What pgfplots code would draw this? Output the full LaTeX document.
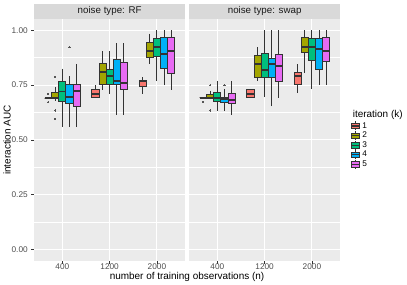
\documentclass[border=0pt]{standalone}
\usepackage{pgfplots}
\pgfplotsset{compat=1.18}
\usepgfplotslibrary{statistics}
\usepackage{fontspec}
\setmainfont{Liberation Sans}

\definecolor{panelgray}{HTML}{EBEBEB}
\definecolor{stripgray}{HTML}{D9D9D9}
\definecolor{boxline}{HTML}{333333}
\definecolor{ticktext}{HTML}{4D4D4D}
\definecolor{striptext}{HTML}{1A1A1A}
\definecolor{ptgray}{HTML}{555555}
\definecolor{c1}{HTML}{F8766D}
\definecolor{c2}{HTML}{A3A500}
\definecolor{c3}{HTML}{00BF7D}
\definecolor{c4}{HTML}{00B0F6}
\definecolor{c5}{HTML}{E76BF3}

% position, colour, lower whisker, lower quartile, median, upper quartile, upper whisker, outliers
\newcommand{\ggbox}[8]{%
\addplot[forget plot, boxplot/draw direction=y,
  boxplot prepared={draw position=#1, lower whisker=#3, lower quartile=#4, median=#5, upper quartile=#6, upper whisker=#7, box extend=0.15, whisker extend=0},
  draw=boxline, fill=#2, line width=0.9bp, mark=*, mark size=0.6bp,
  mark options={draw=ptgray, fill=ptgray, line width=0pt},
  boxplot/every median/.style={line width=1.9bp}] coordinates {#8};}

\pgfplotsset{
  ggpanel/.style={
    scale only axis, width=151.3bp, height=242bp,
    xmin=0.4, xmax=3.6, ymin=-0.053, ymax=1.052,
    xtick={1,2,3}, xticklabels={400,1200,2000},
    ytick={0,0.25,0.5,0.75,1},
    minor ytick={0.125,0.375,0.625,0.875},
    grid=both,
    major grid style={white, line width=1.1bp},
    minor grid style={white, line width=0.55bp},
    axis background/.style={fill=panelgray},
    axis line style={draw=none},
    tick align=outside, major tick length=2.75bp, minor tick length=0pt,
    tick style={boxline, line width=0.55bp},
    xtick pos=left, ytick pos=left,
    ticklabel style={font=\fontsize{8.3}{9}\selectfont, text=ticktext},
    xticklabel style={inner sep=0pt, anchor=north, yshift=0.5bp},
    /pgf/number format/assume math mode=true,
    every axis title/.style={at={(rel axis cs:0.5,1)}, anchor=south,
      fill=stripgray, minimum width=151.3bp, minimum height=15.4bp,
      inner sep=0pt, outer sep=0pt, text=striptext,
      font=\fontsize{9.8}{11}\selectfont},
  },
}
\newcommand{\ggkey}[1]{%
\addlegendimage{legend image code/.code={%
    \draw[boxline, line width=0.6bp] (3.85bp,-4.5bp) -- (3.85bp,4.5bp);
    \draw[boxline, fill=#1, line width=0.6bp] (0bp,-2.75bp) rectangle (7.7bp,2.75bp);
    \draw[boxline, line width=1.1bp] (0bp,0bp) -- (7.7bp,0bp);}}}

\begin{document}
\begin{tikzpicture}
\path[use as bounding box] (0bp,0bp) rectangle (407bp,285bp);

% ---------------- noise type: RF ----------------
\begin{axis}[ggpanel, at={(34bp,24bp)}, anchor=south west,
  yticklabels={0.00,0.25,0.50,0.75,1.00},
  title={noise type: RF}]
% n = 400
\ggbox{0.70}{c1}{0.690}{0.690}{0.690}{0.690}{0.690}{(0,0.711) (0,0.673)}
\ggbox{0.85}{c2}{0.678}{0.689}{0.692}{0.716}{0.742}{(0,0.788) (0,0.634) (0,0.596)}
\ggbox{1.00}{c3}{0.558}{0.675}{0.721}{0.768}{0.825}{}
\ggbox{1.15}{c4}{0.558}{0.668}{0.694}{0.755}{0.790}{(0,0.924)}
\ggbox{1.30}{c5}{0.558}{0.654}{0.723}{0.755}{0.848}{}
% n = 1200
\ggbox{1.70}{c1}{0.692}{0.694}{0.711}{0.729}{0.749}{}
\ggbox{1.85}{c2}{0.729}{0.752}{0.808}{0.848}{0.904}{}
\ggbox{2.00}{c3}{0.711}{0.752}{0.790}{0.822}{0.904}{}
\ggbox{2.15}{c4}{0.615}{0.752}{0.770}{0.866}{0.942}{}
\ggbox{2.30}{c5}{0.615}{0.730}{0.759}{0.852}{0.942}{}
% n = 2000
\ggbox{2.70}{c1}{0.711}{0.745}{0.767}{0.772}{0.787}{}
\ggbox{2.85}{c2}{0.848}{0.878}{0.904}{0.944}{0.985}{}
\ggbox{3.00}{c3}{0.768}{0.883}{0.924}{0.962}{1.000}{}
\ggbox{3.15}{c4}{0.749}{0.825}{0.893}{0.967}{1.000}{}
\ggbox{3.30}{c5}{0.729}{0.802}{0.905}{0.967}{1.000}{}
\end{axis}

% ---------------- noise type: swap ----------------
\begin{axis}[ggpanel, at={(189bp,24bp)}, anchor=south west,
  yticklabels={}, ytick style={draw=none},
  title={noise type: swap},
  legend style={draw=none, fill=none, at={(rel axis cs:1.0695,0.5777)},
    anchor=north west, inner sep=0pt, outer sep=0pt, column sep=2.7bp, row sep=0pt,
    nodes={inner sep=0pt, font=\fontsize{8.3}{9}\selectfont, text=black}},
  legend cell align=left]
\ggkey{c1}\addlegendentry{1}
\ggkey{c2}\addlegendentry{2}
\ggkey{c3}\addlegendentry{3}
\ggkey{c4}\addlegendentry{4}
\ggkey{c5}\addlegendentry{5}
% n = 400
\ggbox{0.70}{c1}{0.692}{0.692}{0.692}{0.692}{0.692}{(0,0.674)}
\ggbox{0.85}{c2}{0.685}{0.692}{0.693}{0.709}{0.725}{(0,0.750) (0,0.634)}
\ggbox{1.00}{c3}{0.634}{0.674}{0.690}{0.715}{0.767}{}
\ggbox{1.15}{c4}{0.634}{0.670}{0.688}{0.692}{0.733}{(0,0.750)}
\ggbox{1.30}{c5}{0.615}{0.668}{0.683}{0.711}{0.770}{}
% n = 1200
\ggbox{1.70}{c1}{0.692}{0.692}{0.711}{0.730}{0.730}{}
\ggbox{1.85}{c2}{0.770}{0.787}{0.848}{0.884}{0.924}{}
\ggbox{2.00}{c3}{0.695}{0.784}{0.819}{0.893}{1.000}{}
\ggbox{2.15}{c4}{0.653}{0.784}{0.848}{0.873}{1.000}{}
\ggbox{2.30}{c5}{0.692}{0.765}{0.837}{0.890}{1.000}{}
% n = 2000
\ggbox{2.70}{c1}{0.714}{0.752}{0.790}{0.807}{0.845}{}
\ggbox{2.85}{c2}{0.807}{0.901}{0.924}{0.967}{1.000}{}
\ggbox{3.00}{c3}{0.733}{0.861}{0.924}{0.962}{1.000}{}
\ggbox{3.15}{c4}{0.752}{0.823}{0.915}{0.962}{1.000}{}
\ggbox{3.30}{c5}{0.752}{0.857}{0.904}{0.967}{1.000}{}
\end{axis}

\node[anchor=center, rotate=90, font=\fontsize{10}{12}\selectfont] at (7bp,145bp) {interaction AUC};
\node[anchor=base, font=\fontsize{10}{12}\selectfont] at (187bp,6bp) {number of training observations (n)};
\node[anchor=base west, font=\fontsize{10}{12}\selectfont] at (349.3bp,167bp) {iteration (k)};
\end{tikzpicture}
\end{document}
